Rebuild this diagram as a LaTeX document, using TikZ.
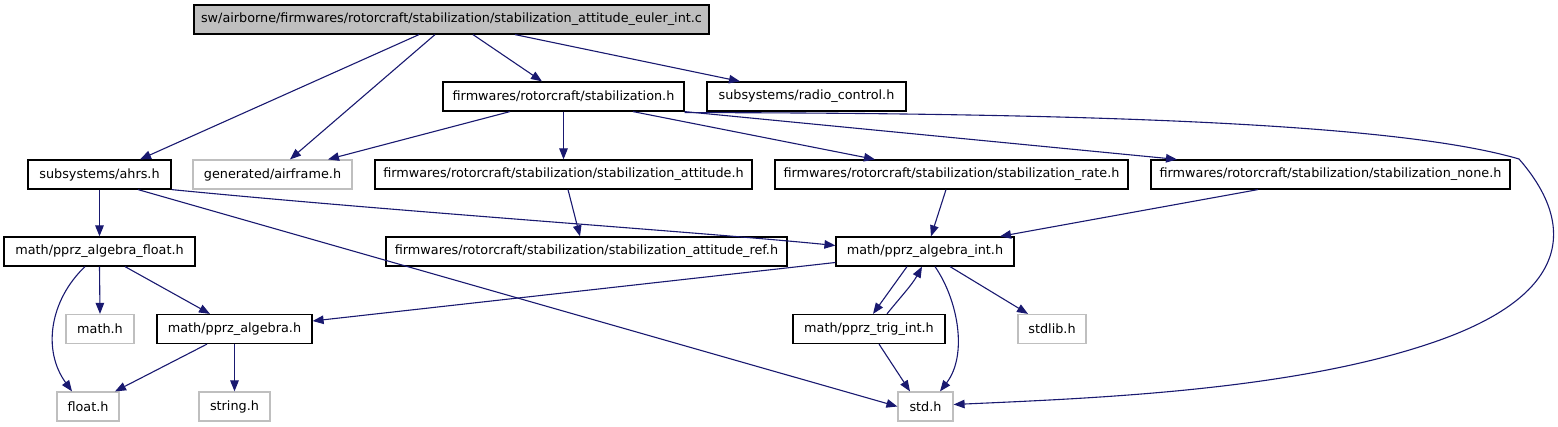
\documentclass[tikz,border=0pt]{standalone}
\usepackage{fontspec}
\setmainfont{DejaVu Sans}
\usetikzlibrary{arrows.meta}
\definecolor{edgeblue}{HTML}{191970}
\definecolor{greyline}{HTML}{BFBFBF}
\tikzset{
  box/.style={draw=black, line width=1.2pt, rectangle, inner sep=0pt, minimum height=29pt, font=\fontsize{12.8}{14}\selectfont, text=black},
  greybox/.style={box, draw=greyline},
  rootbox/.style={box, fill=greyline},
  edge/.style={draw=edgeblue, line width=1.1pt, -{Triangle[length=11pt,width=8.5pt]}}
}
\begin{document}
\begin{tikzpicture}[x=1pt,y=-1pt]
\useasboundingbox (0,0) rectangle (1558,427);
% nodes
\node[rootbox, minimum width=515pt] (root) at (451.5,19.5) {sw/airborne/firmwares/rotorcraft/stabilization/stabilization\_attitude\_euler\_int.c};
\node[box, minimum width=241pt] (stab) at (563.5,96.5) {firmwares/rotorcraft/stabilization.h};
\node[box, minimum width=199pt] (radio) at (806.5,96.5) {subsystems/radio\_control.h};
\node[box, minimum width=143pt] (ahrs) at (99.5,174.5) {subsystems/ahrs.h};
\node[greybox, minimum width=159pt] (airframe) at (272.5,174.5) {generated/airframe.h};
\node[box, minimum width=377pt] (satt) at (563.5,174.5) {firmwares/rotorcraft/stabilization/stabilization\_attitude.h};
\node[box, minimum width=353pt] (srate) at (951.5,174.5) {firmwares/rotorcraft/stabilization/stabilization\_rate.h};
\node[box, minimum width=359pt] (snone) at (1330.5,174.5) {firmwares/rotorcraft/stabilization/stabilization\_none.h};
\node[box, minimum width=191pt] (afloat) at (99.5,251.5) {math/pprz\_algebra\_float.h};
\node[box, minimum width=401pt] (sref) at (586.5,251.5) {firmwares/rotorcraft/stabilization/stabilization\_attitude\_ref.h};
\node[box, minimum width=178pt] (aint) at (925,251.5) {math/pprz\_algebra\_int.h};
\node[greybox, minimum width=68pt] (mathh) at (100,329) {math.h};
\node[box, minimum width=155pt] (alg) at (234.5,329) {math/pprz\_algebra.h};
\node[box, minimum width=152pt] (trig) at (869,329) {math/pprz\_trig\_int.h};
\node[greybox, minimum width=68pt] (stdlib) at (1052,329) {stdlib.h};
\node[greybox, minimum width=62pt] (floath) at (88,406.5) {float.h};
\node[greybox, minimum width=71pt] (stringh) at (234.5,406.5) {string.h};
\node[greybox, minimum width=55pt] (stdh) at (925.5,406.5) {std.h};
% edges
\draw[edge] ([xshift=-32.5pt]root.south) -- ([xshift=40.5pt]ahrs.north);
\draw[edge] ([xshift=-16.5pt]root.south) -- ([xshift=17.5pt]airframe.north);
\draw[edge] ([xshift=21.5pt]root.south) -- ([xshift=-21.5pt]stab.north);
\draw[edge] ([xshift=63.5pt]root.south) -- ([xshift=-66.5pt]radio.north);
\draw[edge] ([xshift=-53.5pt]stab.south) -- ([xshift=55.5pt]airframe.north);
\draw[edge] (stab.south) -- (satt.north);
\draw[edge] ([xshift=69.5pt]stab.south) -- ([xshift=-76.5pt]srate.north);
\draw[edge] (stab.south east) -- ([xshift=-153.5pt]snone.north);
\draw[edge] ([yshift=-1pt]stab.south east) .. controls (1100,113) and (1400,124) .. (1519,159)
  .. controls (1574,222) and (1574,292) .. (1440,340)
  .. controls (1300,390) and (1100,398) .. ([yshift=2pt]stdh.east);
\draw[edge] ([xshift=4.5pt]satt.south) -- ([xshift=-6.5pt]sref.north);
\draw[edge] (ahrs.south east) .. controls (400,212) and (700,232) .. ([yshift=6pt]aint.west);
\draw[edge] (ahrs.south) -- (afloat.north);
\draw[edge] ([xshift=38.5pt]ahrs.south) -- (stdh.west);
\draw[edge] ([xshift=-5.5pt]srate.south) -- ([xshift=6pt]aint.north);
\draw[edge] ([xshift=-72.5pt]snone.south) -- ([xshift=75pt]aint.north);
\draw[edge] ([yshift=-11pt]aint.west) -- ([yshift=8pt]alg.east);
\draw[edge] ([xshift=-18pt]aint.south) -- ([xshift=4pt]trig.north);
\draw[edge] ([xshift=18pt]trig.north) .. controls (898,300) and (912,285) .. ([xshift=-3pt]aint.south);
\draw[edge] ([xshift=10pt]aint.south) .. controls (958,300) and (968,355) .. ([xshift=14.5pt]stdh.north);
\draw[edge] ([xshift=25pt]aint.south) -- ([xshift=-24pt]stdlib.north);
\draw[edge] ([xshift=10pt]trig.south) -- ([xshift=-15.5pt]stdh.north);
\draw[edge] ([xshift=-14.5pt]afloat.south) .. controls (50,300) and (42,350) .. ([xshift=-16pt]floath.north);
\draw[edge] (afloat.south) -- (mathh.north);
\draw[edge] ([xshift=25.5pt]afloat.south) -- ([xshift=-24.5pt]alg.north);
\draw[edge] ([xshift=-27.5pt]alg.south) -- ([xshift=27pt]floath.north);
\draw[edge] (alg.south) -- (stringh.north);
\end{tikzpicture}
\end{document}
